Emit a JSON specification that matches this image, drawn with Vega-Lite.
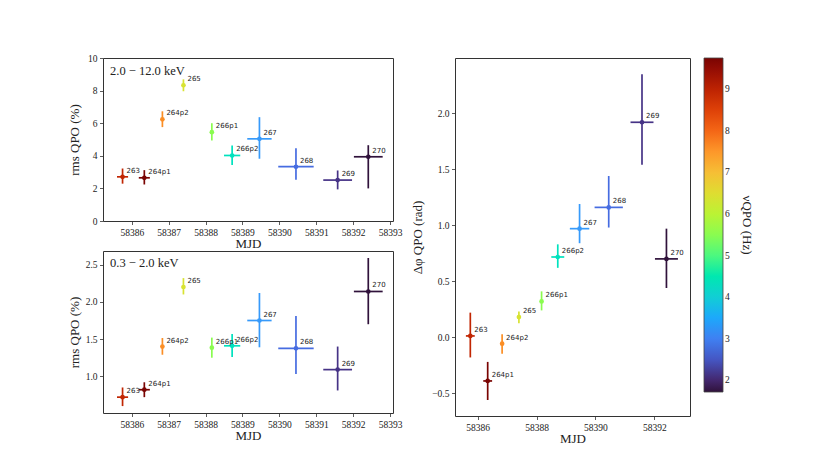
{
  "$schema": "https://vega.github.io/schema/vega-lite/v6.json",
  "padding": {"left": 67, "top": 52, "right": 0, "bottom": 0},
  "background": "white",
  "datasets": {
    "obs": [
      {"obs": "263", "mjd": 58385.75, "mjd_lo": 58385.60, "mjd_hi": 58385.90, "nu": 8.95, "h": 2.71, "h_lo": 2.29, "h_hi": 3.22, "s": 0.72, "s_lo": 0.60, "s_hi": 0.85, "p": 0.012, "p_lo": -0.18, "p_hi": 0.22},
      {"obs": "264p1", "mjd": 58386.34, "mjd_lo": 58386.19, "mjd_hi": 58386.49, "nu": 9.75, "h": 2.65, "h_lo": 2.24, "h_hi": 3.12, "s": 0.82, "s_lo": 0.72, "s_hi": 0.92, "p": -0.39, "p_lo": -0.56, "p_hi": -0.22},
      {"obs": "264p2", "mjd": 58386.83, "mjd_lo": 58386.79, "mjd_hi": 58386.87, "nu": 7.6, "h": 6.24, "h_lo": 5.76, "h_hi": 6.73, "s": 1.40, "s_lo": 1.29, "s_hi": 1.515, "p": -0.057, "p_lo": -0.146, "p_hi": 0.027},
      {"obs": "265", "mjd": 58387.40, "mjd_lo": 58387.36, "mjd_hi": 58387.44, "nu": 6.4, "h": 8.33, "h_lo": 7.96, "h_hi": 8.69, "s": 2.20, "s_lo": 2.10, "s_hi": 2.32, "p": 0.18, "p_lo": 0.125, "p_hi": 0.23},
      {"obs": "266p1", "mjd": 58388.17, "mjd_lo": 58388.13, "mjd_hi": 58388.21, "nu": 5.5, "h": 5.45, "h_lo": 4.94, "h_hi": 6.0, "s": 1.385, "s_lo": 1.25, "s_hi": 1.52, "p": 0.32, "p_lo": 0.24, "p_hi": 0.41},
      {"obs": "266p2", "mjd": 58388.72, "mjd_lo": 58388.50, "mjd_hi": 58388.94, "nu": 4.37, "h": 4.02, "h_lo": 3.43, "h_hi": 4.63, "s": 1.41, "s_lo": 1.26, "s_hi": 1.57, "p": 0.717, "p_lo": 0.62, "p_hi": 0.83},
      {"obs": "267", "mjd": 58389.46, "mjd_lo": 58389.13, "mjd_hi": 58389.79, "nu": 3.33, "h": 5.04, "h_lo": 3.82, "h_hi": 6.37, "s": 1.75, "s_lo": 1.39, "s_hi": 2.12, "p": 0.97, "p_lo": 0.84, "p_hi": 1.19},
      {"obs": "268", "mjd": 58390.45, "mjd_lo": 58389.97, "mjd_hi": 58390.93, "nu": 2.76, "h": 3.33, "h_lo": 2.53, "h_hi": 4.47, "s": 1.376, "s_lo": 1.03, "s_hi": 1.81, "p": 1.16, "p_lo": 0.98, "p_hi": 1.44},
      {"obs": "269", "mjd": 58391.58, "mjd_lo": 58391.19, "mjd_hi": 58391.97, "nu": 2.12, "h": 2.51, "h_lo": 1.94, "h_hi": 3.10, "s": 1.09, "s_lo": 0.81, "s_hi": 1.40, "p": 1.92, "p_lo": 1.54, "p_hi": 2.35},
      {"obs": "270", "mjd": 58392.41, "mjd_lo": 58392.02, "mjd_hi": 58392.80, "nu": 1.72, "h": 3.94, "h_lo": 2.0, "h_hi": 4.65, "s": 2.14, "s_lo": 1.70, "s_hi": 2.59, "p": 0.70, "p_lo": 0.44, "p_hi": 0.97}
    ]
  },
  "config": {
    "view": {"stroke": "#333", "strokeWidth": 1},
    "axis": {
      "grid": false, "domain": false, "tickColor": "#333", "tickSize": 3.5, "tickWidth": 0.8, "tickCount": 20,
      "labelFont": "Liberation Serif", "labelFontSize": 9.5, "labelColor": "#222", "labelPadding": 2.5,
      "titleFont": "Liberation Serif", "titleFontSize": 13, "titleFontWeight": "normal", "titleColor": "#222"
    },
    "legend": {
      "orient": "right", "offset": 13, "direction": "vertical",
      "gradientLength": 334, "gradientThickness": 19,
      "gradientStrokeColor": "#444", "gradientStrokeWidth": 0.8,
      "labelFont": "Liberation Serif", "labelFontSize": 9.5, "labelColor": "#222", "labelOffset": 4, "labelOverlap": false,
      "titleFont": "Liberation Serif", "titleFontSize": 13, "titleFontWeight": "normal", "titleColor": "#222",
      "titleOrient": "right", "titleAnchor": "middle", "titlePadding": 10
    }
  },
  "spacing": 7,
  "resolve": {"scale": {"fill": "shared", "stroke": "shared"}, "legend": {"fill": "shared", "stroke": "shared"}},
  "hconcat": [
    {
      "spacing": -2,
      "vconcat": [
        {
          "width": 290, "height": 163,
          "layer": [
            {"data": {"name": "obs"}, "mark": {"type": "rule", "strokeWidth": 1.7},
             "encoding": {
               "x": {"field": "mjd_lo", "type": "quantitative", "scale": {"domain": [58385.22, 58393.08], "nice": false, "zero": false}, "axis": {"values": [58386, 58387, 58388, 58389, 58390, 58391, 58392, 58393], "tickCount": 20, "format": "d", "title": "MJD", "titlePadding": 1}},
               "x2": {"field": "mjd_hi"},
               "y": {"field": "h", "type": "quantitative", "scale": {"domain": [0, 10], "nice": false}, "axis": {"values": [0, 2, 4, 6, 8, 10], "tickCount": 20, "format": "d", "labelOverlap": false, "title": "rms QPO (%)", "titleX": -22}},
               "stroke": {"field": "nu", "type": "quantitative", "scale": {"domain": [1.7199, 2.2936, 2.8671, 3.4407, 4.0143, 4.5879, 5.1614, 5.735, 6.3086, 6.8821, 7.4557, 8.0293, 8.6029, 9.1764, 9.7501], "range": ["#30123b", "#4145ab", "#4675ed", "#39a2fc", "#1bcfd4", "#24eca6", "#61fc6c", "#a4fc3b", "#d1e834", "#f3c63a", "#fe9b2d", "#f36315", "#d93806", "#b11901", "#7a0402"], "nice": false, "zero": false}, "legend": null}
             }},
            {"data": {"name": "obs"}, "mark": {"type": "rule", "strokeWidth": 1.7},
             "encoding": {
               "x": {"field": "mjd", "type": "quantitative"},
               "y": {"field": "h_lo", "type": "quantitative"},
               "y2": {"field": "h_hi"},
               "stroke": {"field": "nu", "type": "quantitative", "legend": null}
             }},
            {"data": {"name": "obs"}, "mark": {"type": "circle", "size": 22, "opacity": 1},
             "encoding": {
               "x": {"field": "mjd", "type": "quantitative"},
               "y": {"field": "h", "type": "quantitative"},
               "fill": {"field": "nu", "type": "quantitative", "scale": {"domain": [1.72, 2.2936, 2.8671, 3.4407, 4.0143, 4.5879, 5.1614, 5.735, 6.3086, 6.8821, 7.4557, 8.0293, 8.6029, 9.1764, 9.75], "range": ["#30123b", "#4145ab", "#4675ed", "#39a2fc", "#1bcfd4", "#24eca6", "#61fc6c", "#a4fc3b", "#d1e834", "#f3c63a", "#fe9b2d", "#f36315", "#d93806", "#b11901", "#7a0402"], "nice": false, "zero": false}, "legend": {"title": "νQPO (Hz)", "values": [2, 3, 4, 5, 6, 7, 8, 9], "format": "d", "titleAngle": 270}}
             }},
            {"data": {"name": "obs"}, "mark": {"type": "text", "font": "DejaVu Sans", "fontSize": 7, "color": "#222", "align": "left", "baseline": "bottom", "dx": 4, "dy": -3},
             "encoding": {
               "x": {"field": "mjd", "type": "quantitative"},
               "y": {"field": "h", "type": "quantitative"},
               "text": {"field": "obs"}
             }},
            {"data": {"values": [{"label": "2.0 − 12.0 keV"}]},
             "mark": {"type": "text", "font": "Liberation Serif", "fontSize": 12.5, "fontWeight": "normal", "color": "#222", "align": "left", "baseline": "middle"},
             "encoding": {"x": {"datum": 58385.41}, "y": {"datum": 9.2}, "text": {"field": "label"}}}
          ]
        },
        {
          "width": 290, "height": 162,
          "layer": [
            {"data": {"name": "obs"}, "mark": {"type": "rule", "strokeWidth": 1.7},
             "encoding": {
               "x": {"field": "mjd_lo", "type": "quantitative", "scale": {"domain": [58385.22, 58393.08], "nice": false, "zero": false}, "axis": {"values": [58386, 58387, 58388, 58389, 58390, 58391, 58392, 58393], "tickCount": 20, "format": "d", "title": "MJD", "titlePadding": 1}},
               "x2": {"field": "mjd_hi"},
               "y": {"field": "s", "type": "quantitative", "scale": {"domain": [0.507, 2.684], "nice": false, "zero": false}, "axis": {"values": [1.0, 1.5, 2.0, 2.5], "tickCount": 20, "format": ".1f", "title": "rms QPO (%)", "titleX": -22}},
               "stroke": {"field": "nu", "type": "quantitative", "legend": null}
             }},
            {"data": {"name": "obs"}, "mark": {"type": "rule", "strokeWidth": 1.7},
             "encoding": {
               "x": {"field": "mjd", "type": "quantitative"},
               "y": {"field": "s_lo", "type": "quantitative"},
               "y2": {"field": "s_hi"},
               "stroke": {"field": "nu", "type": "quantitative", "legend": null}
             }},
            {"data": {"name": "obs"}, "mark": {"type": "circle", "size": 22, "opacity": 1},
             "encoding": {
               "x": {"field": "mjd", "type": "quantitative"},
               "y": {"field": "s", "type": "quantitative"},
               "fill": {"field": "nu", "type": "quantitative", "legend": {"title": "νQPO (Hz)", "values": [2, 3, 4, 5, 6, 7, 8, 9], "format": "d", "titleAngle": 270}}
             }},
            {"data": {"name": "obs"}, "mark": {"type": "text", "font": "DejaVu Sans", "fontSize": 7, "color": "#222", "align": "left", "baseline": "bottom", "dx": 4, "dy": -3},
             "encoding": {
               "x": {"field": "mjd", "type": "quantitative"},
               "y": {"field": "s", "type": "quantitative"},
               "text": {"field": "obs"}
             }},
            {"data": {"values": [{"label": "0.3 − 2.0 keV"}]},
             "mark": {"type": "text", "font": "Liberation Serif", "fontSize": 12.5, "fontWeight": "normal", "color": "#222", "align": "left", "baseline": "middle"},
             "encoding": {"x": {"datum": 58385.41}, "y": {"datum": 2.52}, "text": {"field": "label"}}}
          ]
        }
      ]
    },
    {
      "width": 235, "height": 358,
      "data": {"name": "obs"},
      "layer": [
        {"mark": {"type": "rule", "strokeWidth": 1.7},
         "encoding": {
           "x": {"field": "mjd_lo", "type": "quantitative", "scale": {"domain": [58385.23, 58393.21], "nice": false, "zero": false}, "axis": {"values": [58386, 58388, 58390, 58392], "tickCount": 20, "format": "d", "title": "MJD", "titlePadding": 1}},
           "x2": {"field": "mjd_hi"},
           "y": {"field": "p", "type": "quantitative", "scale": {"domain": [-0.703, 2.494], "nice": false, "zero": false}, "axis": {"values": [-0.5, 0.0, 0.5, 1.0, 1.5, 2.0, 2.494], "tickCount": 20, "labelExpr": "datum.value > 2.4 ? ' ' : format(datum.value, '.1f')", "tickOpacity": {"condition": {"test": "datum.value > 2.4", "value": 0}, "value": 1}, "title": "Δφ QPO (rad)", "titleX": -31}},
           "stroke": {"field": "nu", "type": "quantitative", "legend": null}
         }},
        {"mark": {"type": "rule", "strokeWidth": 1.7},
         "encoding": {
           "x": {"field": "mjd", "type": "quantitative"},
           "y": {"field": "p_lo", "type": "quantitative"},
           "y2": {"field": "p_hi"},
           "stroke": {"field": "nu", "type": "quantitative", "legend": null}
         }},
        {"mark": {"type": "circle", "size": 22, "opacity": 1},
         "encoding": {
           "x": {"field": "mjd", "type": "quantitative"},
           "y": {"field": "p", "type": "quantitative"},
           "fill": {"field": "nu", "type": "quantitative", "legend": {"title": "νQPO (Hz)", "values": [2, 3, 4, 5, 6, 7, 8, 9], "format": "d", "titleAngle": 270}}
         }},
        {"mark": {"type": "text", "font": "DejaVu Sans", "fontSize": 7, "color": "#222", "align": "left", "baseline": "bottom", "dx": 4, "dy": -3},
         "encoding": {
           "x": {"field": "mjd", "type": "quantitative"},
           "y": {"field": "p", "type": "quantitative"},
           "text": {"field": "obs"}
         }}
      ]
    }
  ]
}
